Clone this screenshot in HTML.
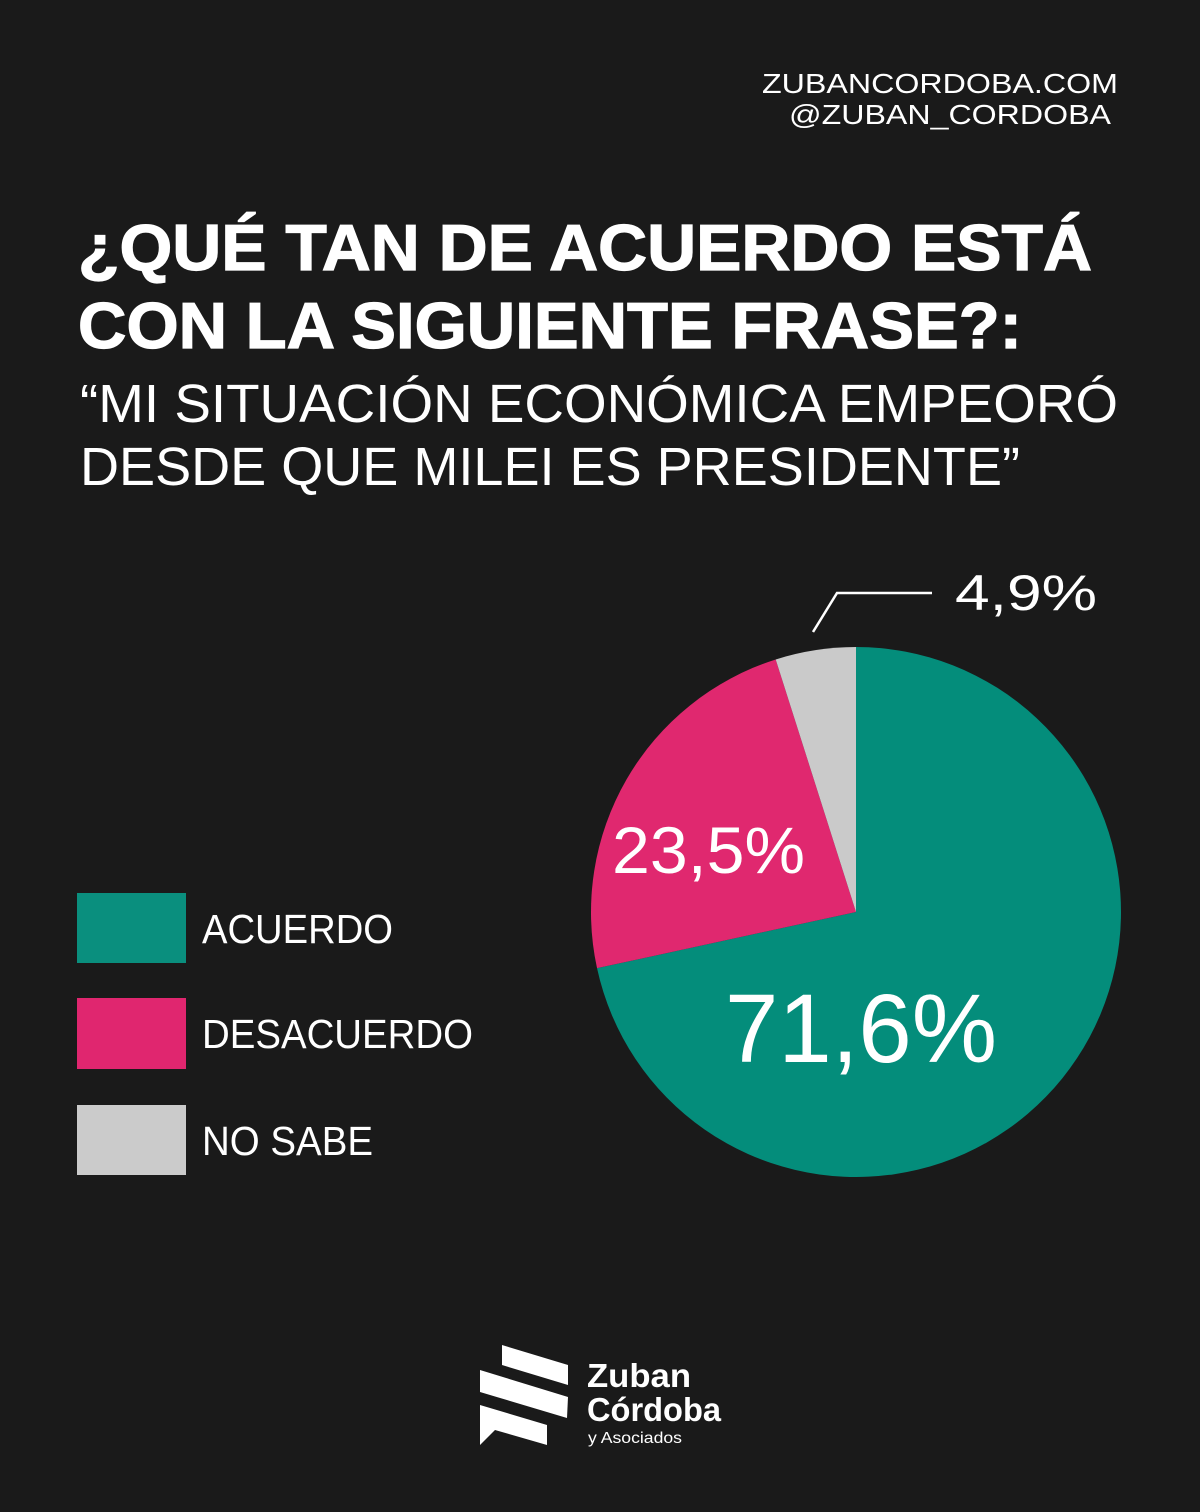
<!DOCTYPE html>
<html>
<head>
<meta charset="utf-8">
<style>
  html, body { margin: 0; padding: 0; background: #1a1a1a; }
  body { width: 1200px; height: 1512px; overflow: hidden; }
  svg { display: block; }
  text { font-family: "Liberation Sans", "DejaVu Sans", sans-serif; fill: #ffffff; }
</style>
</head>
<body>
<svg width="1200" height="1512" viewBox="0 0 1200 1512" xmlns="http://www.w3.org/2000/svg">
  <rect x="0" y="0" width="1200" height="1512" fill="#1a1a1a"/>

  <!-- Header -->
  <text x="762" y="93" font-size="28" textLength="356" lengthAdjust="spacingAndGlyphs">ZUBANCORDOBA.COM</text>
  <text x="789" y="124" font-size="28" textLength="322" lengthAdjust="spacingAndGlyphs">@ZUBAN_CORDOBA</text>

  <!-- Title -->
  <text x="78" y="270" font-size="65" font-weight="bold" stroke="#ffffff" stroke-width="1.2" textLength="1014" lengthAdjust="spacingAndGlyphs">¿QUÉ TAN DE ACUERDO ESTÁ</text>
  <text x="78" y="348" font-size="65" font-weight="bold" stroke="#ffffff" stroke-width="1.2" textLength="944" lengthAdjust="spacingAndGlyphs">CON LA SIGUIENTE FRASE?:</text>
  <text x="80" y="422" font-size="54" textLength="1038" lengthAdjust="spacingAndGlyphs">“MI SITUACIÓN ECONÓMICA EMPEORÓ</text>
  <text x="80" y="485" font-size="54" textLength="940" lengthAdjust="spacingAndGlyphs">DESDE QUE MILEI ES PRESIDENTE”</text>

  <!-- Pie -->
  <path d="M856,912 L856,647 A265,265 0 1 1 597.02,968.18 Z" fill="#048d7b"/>
  <path d="M856,912 L597.02,968.18 A265,265 0 0 1 775.69,659.46 Z" fill="#e0286f"/>
  <path d="M856,912 L775.69,659.46 A265,265 0 0 1 856,647 Z" fill="#cacaca"/>

  <!-- Leader line -->
  <polyline points="813,632 837,593 932,593" fill="none" stroke="#ffffff" stroke-width="2.5"/>

  <!-- Pie labels -->
  <text x="955" y="610" font-size="50" textLength="142" lengthAdjust="spacingAndGlyphs">4,9%</text>
  <text x="612" y="873" font-size="66" textLength="193" lengthAdjust="spacingAndGlyphs">23,5%</text>
  <text x="725" y="1062" font-size="97" textLength="272" lengthAdjust="spacingAndGlyphs">71,6%</text>

  <!-- Legend -->
  <rect x="77" y="893" width="109" height="70" fill="#0a8f7e"/>
  <rect x="77" y="998" width="109" height="71" fill="#e0266f"/>
  <rect x="77" y="1105" width="109" height="70" fill="#cbcbcb"/>
  <text x="202" y="943" font-size="41" textLength="191" lengthAdjust="spacingAndGlyphs">ACUERDO</text>
  <text x="202" y="1048" font-size="41" textLength="271" lengthAdjust="spacingAndGlyphs">DESACUERDO</text>
  <text x="202" y="1155" font-size="41" textLength="171" lengthAdjust="spacingAndGlyphs">NO SABE</text>

  <!-- Logo icon -->
  <polygon points="502,1345 568,1365 568,1385 502,1365" fill="#ffffff"/>
  <polygon points="480,1370 568,1397 567,1418 480,1392" fill="#ffffff"/>
  <polygon points="480,1405 547,1425 547,1445 495,1430 480,1445" fill="#ffffff"/>

  <!-- Logo text -->
  <text x="587" y="1387" font-size="33" font-weight="bold" textLength="104" lengthAdjust="spacingAndGlyphs">Zuban</text>
  <text x="587" y="1421" font-size="33" font-weight="bold" textLength="134" lengthAdjust="spacingAndGlyphs">Córdoba</text>
  <text x="588" y="1443" font-size="16" textLength="94" lengthAdjust="spacingAndGlyphs">y Asociados</text>
</svg>
</body>
</html>
